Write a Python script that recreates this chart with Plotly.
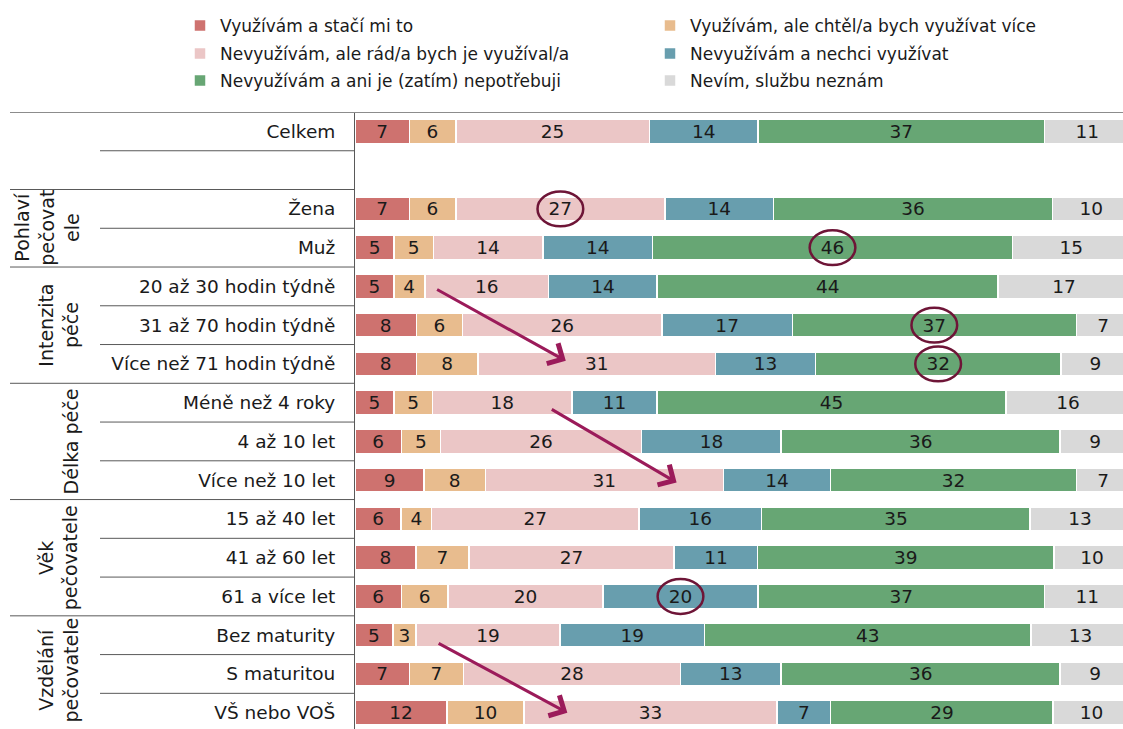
import plotly.graph_objects as go

series_names = [
    "Využívám a stačí mi to",
    "Využívám, ale chtěl/a bych využívat více",
    "Nevyužívám, ale rád/a bych je využíval/a",
    "Nevyužívám a nechci využívat",
    "Nevyužívám a ani je (zatím) nepotřebuji",
    "Nevím, službu neznám",
]
colors = ["#CE726F", "#E8BC8E", "#EBC6C6", "#689EAE", "#67A674", "#D9D9D9"]

row_labels = ["Celkem", "", "Žena", "Muž",
              "20 až 30 hodin týdně", "31 až 70 hodin týdně", "Více než 71 hodin týdně",
              "Méně než 4 roky", "4 až 10 let", "Více než 10 let",
              "15 až 40 let", "41 až 60 let", "61 a více let",
              "Bez maturity", "S maturitou", "VŠ nebo VOŠ"]

# values per row (None = empty spacer row)
v_use_ok     = [7, None, 7, 5, 5, 8, 8, 5, 6, 9, 6, 8, 6, 5, 7, 12]
v_use_more   = [6, None, 6, 5, 4, 6, 8, 5, 5, 8, 4, 7, 6, 3, 7, 10]
v_want       = [25, None, 27, 14, 16, 26, 31, 18, 26, 31, 27, 27, 20, 19, 28, 33]
v_dont_want  = [14, None, 14, 14, 14, 17, 13, 11, 18, 14, 16, 11, 20, 19, 13, 7]
v_dont_need  = [37, None, 36, 46, 44, 37, 32, 45, 36, 32, 35, 39, 37, 43, 36, 29]
v_dont_know  = [11, None, 10, 15, 17, 7, 9, 16, 9, 7, 13, 10, 11, 13, 9, 10]
series_values = [v_use_ok, v_use_more, v_want, v_dont_want, v_dont_need, v_dont_know]

group_labels = ["Pohlaví<br>pečovat<br>ele", "Intenzita<br>péče", "Délka péče",
                "Věk<br>pečovatele", "Vzdělání<br>pečovatele"]
group_rows = [(2, 3), (4, 6), (7, 9), (10, 12), (13, 15)]

# highlighted values: (row index, series index)
highlights = [(2, 2), (3, 4), (5, 4), (6, 4), (12, 3)]
# arrows: (tail x, tail row, head x, head row) in axis units
arrows = [(10.4, 4.06, 27.2, 5.92), (25.2, 7.15, 41.5, 9.06), (10.6, 13.19, 27.4, 15.0)]

FONT = "DejaVu Sans"
rows = list(range(len(row_labels)))
legend_ids = ["legend", "legend2", "legend3", "legend4", "legend5", "legend6"]

fig = go.Figure()
for i, (name, vals, col) in enumerate(zip(series_names, series_values, colors)):
    ys = [r for r in rows if vals[r] is not None]
    xs = [vals[r] for r in ys]
    fig.add_trace(go.Bar(
        x=xs, y=ys, orientation="h", name=name, showlegend=True,
        marker=dict(color=col, line=dict(color="white", width=1.5)),
        text=[str(v) for v in xs], texttemplate="%{text}",
        textposition="inside", insidetextanchor="middle", textangle=0,
        textfont=dict(family=FONT, size=18.5, color="#1a1a1a"),
        width=0.62, hoverinfo="skip", legend=legend_ids[i],
    ))

# row/group separator lines
P = lambda px: (px - 355) / 768.0
group_starts = {g[0] for g in group_rows}
shapes = []
shapes.append(dict(type="line", xref="paper", yref="y", x0=P(10), x1=1, y0=-0.5, y1=-0.5,
                   line=dict(color="#8c8c8c", width=2)))
for k in range(len(rows) - 1):
    b = k + 0.5
    x0 = P(10) if (k + 1) in group_starts else P(100)
    shapes.append(dict(type="line", xref="paper", yref="y", x0=x0, x1=0, y0=b, y1=b,
                       line=dict(color="#595959", width=1)))

# circles around highlighted values (centered on normalized segment)
for r, s in highlights:
    vals = [series_values[j][r] for j in range(6)]
    tot = sum(vals)
    start = sum(vals[:s]) * 100.0 / tot
    c = start + vals[s] * 50.0 / tot
    shapes.append(dict(type="circle", xref="x", yref="y", x0=c - 2.95, x1=c + 2.95,
                       y0=r - 0.45, y1=r + 0.45, line=dict(color="#6E1537", width=2.5)))

annotations = []
for lab, (a, b) in zip(group_labels, group_rows):
    yc = (a + b) / 2 if b < 15 else 13.9
    annotations.append(dict(text=lab, xref="paper", yref="y", x=P(84), y=yc,
                            xanchor="right", yanchor="middle", textangle=-90, showarrow=False,
                            font=dict(family=FONT, size=19, color="#1a1a1a")))
for tx, ty, hx, hy in arrows:
    annotations.append(dict(x=hx, y=hy, ax=tx, ay=ty, xref="x", yref="y", axref="x", ayref="y",
                            text="", showarrow=True, arrowhead=4, arrowsize=1.5, arrowwidth=3,
                            arrowcolor="#9B1B5A"))

legend_common = dict(yref="container", xref="container", xanchor="left", yanchor="top",
                     orientation="v", font=dict(family=FONT, size=17, color="#1a1a1a"),
                     bgcolor="rgba(0,0,0,0)")
leg_x = [180, 650]
leg_top = [8, 36, 63]
legends = {}
for i, lid in enumerate(legend_ids):
    legends[lid] = dict(x=leg_x[i % 2] / 1123, y=1 - leg_top[i // 2] / 729, **legend_common)

fig.update_layout(
    barmode="stack", barnorm="percent",
    width=1123, height=729, showlegend=True,
    margin=dict(l=355, r=0, t=112, b=0, autoexpand=False),
    paper_bgcolor="white", plot_bgcolor="white",
    font=dict(family=FONT, size=18.5, color="#1a1a1a"),
    uniformtext=dict(minsize=18.5, mode="show"),
    shapes=shapes, annotations=annotations,
    **legends,
)
fig.update_xaxes(range=[0, 99.1], showgrid=False, zeroline=False, showticklabels=False,
                 fixedrange=True, automargin=False)
fig.update_yaxes(range=[15.42, -0.5], tickvals=rows, ticktext=row_labels, showgrid=False,
                 zeroline=False, showline=True, linecolor="#595959", linewidth=1,
                 ticks="", ticklabelstandoff=15, automargin=False,
                 tickfont=dict(family=FONT, size=18.5, color="#1a1a1a"))

fig.write_html("out.html", config={"displayModeBar": False},
               post_script="document.body.style.margin='0';")
